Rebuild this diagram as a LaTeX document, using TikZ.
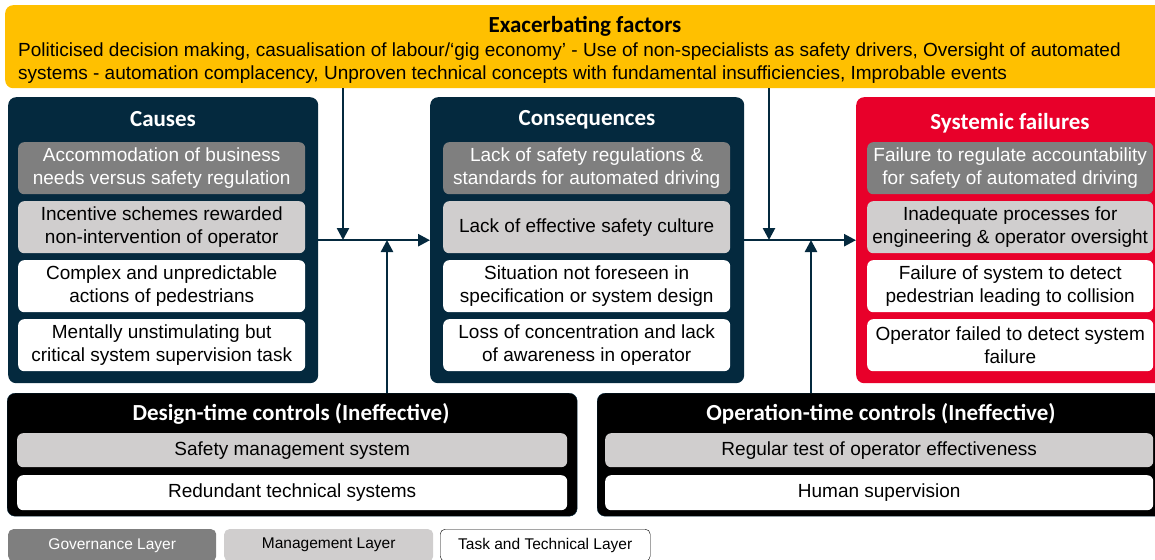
\documentclass[tikz,border=0pt]{standalone}
\usepackage{fontspec}
\setmainfont{Liberation Sans}
\newfontfamily\headfont{Carlito}
\usetikzlibrary{arrows.meta}

\definecolor{exyellow}{RGB}{255,192,0}
\definecolor{navy}{RGB}{4,41,62}
\definecolor{sysred}{RGB}{232,0,42}
\definecolor{govgray}{RGB}{127,127,127}
\definecolor{mangray}{RGB}{208,206,206}

\tikzset{
  panel/.style = {rounded corners=8pt, anchor=north west, inner sep=0pt},
  item/.style  = {rounded corners=6pt, anchor=north west, inner sep=0pt, align=center,
                  font=\fontsize{19}{23}\selectfont},
  gov/.style   = {item, fill=govgray, text=white},
  man/.style   = {item, fill=mangray},
  tsk/.style   = {item, fill=white},
  heading/.style = {font=\headfont\bfseries\fontsize{23}{26}\selectfont},
  legend/.style  = {rounded corners=5pt, anchor=north west, inner sep=0pt,
                    minimum height=32pt, font=\fontsize{15.5}{17}\selectfont},
  flow/.style  = {line width=2.5pt, draw=navy, -{Triangle[length=12pt,width=12pt]}},
}

\begin{document}
\begin{tikzpicture}[x=1pt, y=-1pt]
        \clip (0,0) rectangle (1155,559);

        % exacerbating factors
        \node[panel, fill=exyellow, minimum width=1160pt, minimum height=83pt] (exf) at (5,5) {};
        \node[heading] (exftitle) at (585,26) {Exacerbating factors};
        \node[anchor=west, inner sep=0pt, align=left, font=\fontsize{19}{23}\selectfont] (exftext) at (18,63)
        {Politicised decision making, casualisation of labour/‘gig economy’ - Use of non-specialists as safety drivers, Oversight of automated\\
        systems - automation complacency, Unproven technical concepts with fundamental insufficiencies, Improbable events};

        % causes
        \node[panel, fill=navy, minimum width=310pt, minimum height=286pt] (causes) at (8,97) {};
        \node[heading, text=white] (causestitle) at (163,119) {Causes};
        \node[gov, minimum width=287pt, minimum height=52pt] (c1) at (18,142) {Accommodation of business\\needs versus safety regulation};
        \node[man, minimum width=287pt, minimum height=52pt] (c2) at (18,201) {Incentive schemes rewarded\\non-intervention of operator};
        \node[tsk, minimum width=287pt, minimum height=52pt] (c3) at (18,260) {Complex and unpredictable\\actions of pedestrians};
        \node[tsk, minimum width=287pt, minimum height=52pt] (c4) at (18,319) {Mentally unstimulating but\\critical system supervision task};

        % consequences
        \node[panel, fill=navy, minimum width=314pt, minimum height=286pt] (conseq) at (430,97) {};
        \node[heading, text=white] (conseqtitle) at (587,120) {Consequences};
        \node[gov, minimum width=287pt, minimum height=52pt] (q1) at (443,142) {Lack of safety regulations \&\\standards for automated driving};
        \node[man, minimum width=287pt, minimum height=52pt] (q2) at (443,201) {Lack of effective safety culture};
        \node[tsk, minimum width=287pt, minimum height=52pt] (q3) at (443,260) {Situation not foreseen in\\specification or system design};
        \node[tsk, minimum width=287pt, minimum height=52pt] (q4) at (443,319) {Loss of concentration and lack\\of awareness in operator};

        % systemic failures
        \node[panel, fill=sysred, minimum width=312pt, minimum height=286pt] (sysfail) at (856,97) {};
        \node[heading, text=white] (sysfailtitle) at (1010,123) {Systemic failures};
        \node[gov, minimum width=286pt, minimum height=52pt] (s1) at (867,142) {Failure to regulate accountability\\for safety of automated driving};
        \node[man, minimum width=286pt, minimum height=52pt] (s2) at (867,201) {Inadequate processes for\\engineering \& operator oversight};
        \node[tsk, minimum width=286pt, minimum height=52pt] (s3) at (867,260) {Failure of system to detect\\pedestrian leading to collision};
        \node[tsk, minimum width=286pt, minimum height=52pt] (s4) at (867,319) {Operator failed to detect system\\failure};

        % controls
        \node[panel, fill=black, draw=navy, minimum width=570pt, minimum height=123pt] (design) at (7,393) {};
        \node[heading, text=white] (designtitle) at (291,414) {Design-time controls (Ineffective)};
        \node[man, minimum width=550pt, minimum height=34pt] (d1) at (17,433) {Safety management system};
        \node[tsk, minimum width=550pt, minimum height=35pt] (d2) at (17,475) {Redundant technical systems};

        \node[panel, fill=black, draw=navy, minimum width=570pt, minimum height=123pt] (operation) at (597,393) {};
        \node[heading, text=white] (operationtitle) at (881,414) {Operation-time controls (Ineffective)};
        \node[man, minimum width=548pt, minimum height=34pt] (o1) at (605,433) {Regular test of operator effectiveness};
        \node[tsk, minimum width=548pt, minimum height=35pt] (o2) at (605,475) {Human supervision};

        % flows
        \coordinate (j1) at (343,240);
        \coordinate (j2) at (387,240);
        \coordinate (j3) at (769,240);
        \coordinate (j4) at (811,240);
        \draw[flow] (causes.east) -- (conseq.west);
        \draw[flow] (conseq.east) -- (sysfail.west);
        \draw[flow] (exf.south -| j1) -- (j1);
        \draw[flow] (design.north -| j2) -- (j2);
        \draw[flow] (exf.south -| j3) -- (j3);
        \draw[flow] (operation.north -| j4) -- (j4);

        % legend
        \node[legend, fill=govgray, text=white, minimum width=208pt] (lgov) at (8,529) {Governance Layer};
        \node[legend, fill=mangray, minimum width=209pt] (lman) at (224,529) {Management Layer};
        \node[legend, fill=white, draw=black, minimum width=210pt] (ltsk) at (440,529) {Task and Technical Layer};
    \end{tikzpicture}
\end{document}
